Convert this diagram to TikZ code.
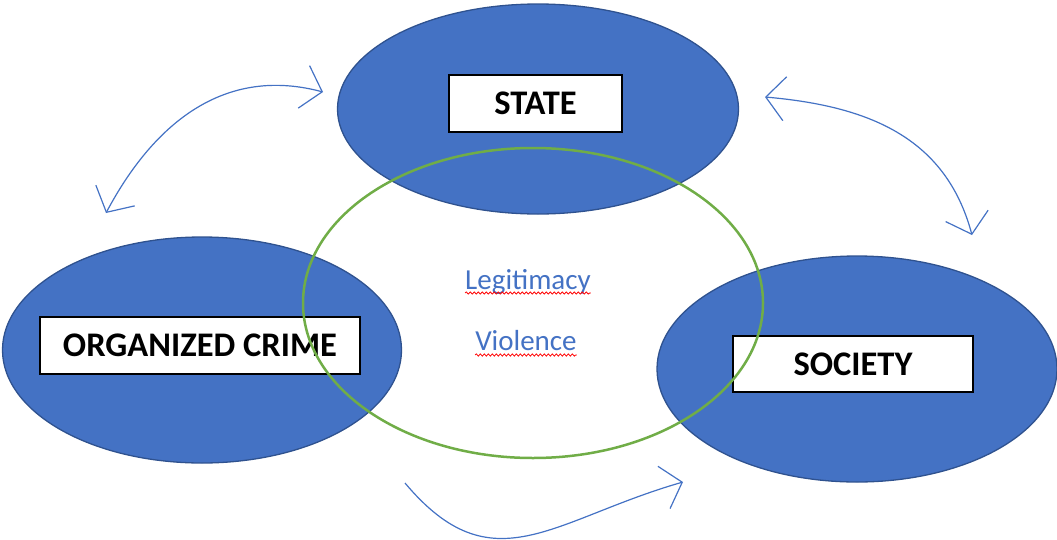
\documentclass[tikz,border=0pt]{standalone}
\usepackage{fontspec}
\setmainfont{Carlito}
\usetikzlibrary{shapes.geometric,arrows.meta,decorations.pathmorphing}
\definecolor{fillblue}{HTML}{4472C4}
\definecolor{edgeblue}{HTML}{2F528F}
\definecolor{ringgreen}{HTML}{70AD47}
\definecolor{arrowblue}{HTML}{4472C4}
\begin{document}
\begin{tikzpicture}[x=1pt,y=1pt,
 blob/.style={ellipse,draw=edgeblue,fill=fillblue,line width=1.3pt,inner sep=0pt},
 label box/.style={draw=black,fill=white,line width=1.3pt,inner sep=0pt,font=\fontsize{34.5}{40}\selectfont\bfseries},
 ring/.style={ellipse,draw=ringgreen,line width=2.5pt,inner sep=0pt},
 barb/.tip={Straight Barb[length=19pt,width=44pt]},
 link/.style={draw=arrowblue,line width=1.2pt},
 term/.style={text=fillblue,font=\fontsize{29}{34}\selectfont,anchor=base,inner sep=0pt},
 squiggle/.style={draw=red,line width=0.8pt,decorate,decoration={snake,amplitude=1.1pt,segment length=4pt}}]
\useasboundingbox (0,0) rectangle (1057,-539);
% blue ellipses
\node[blob,minimum width=401pt,minimum height=210pt] (state) at (538,-109) {};
\node[blob,minimum width=399pt,minimum height=226pt] (crime) at (202,-350) {};
\node[blob,minimum width=400pt,minimum height=226pt] (society) at (857,-369) {};
% label boxes
\node[label box,minimum width=173pt,minimum height=57pt] (stateb) at (535.5,-103.5) {STATE};
\node[label box,minimum width=320pt,minimum height=57pt] (crimeb) at (200,-345.5) {ORGANIZED CRIME};
\node[label box,minimum width=240pt,minimum height=56pt] (societyb) at (853,-364) {SOCIETY};
% green ring
\node[ring,minimum width=460pt,minimum height=310pt] (ring) at (533,-303) {};
% centre terms
\node[term] (legit) at (528,-289) {Legitimacy};
\node[term] (viol) at (526,-350) {Violence};
\draw[squiggle] ([yshift=-4pt]legit.base west) -- ([yshift=-4pt]legit.base east);
\draw[squiggle] ([yshift=-5pt]viol.base west) -- ([yshift=-5pt]viol.base east);
% arrows
\coordinate (a1) at (323,-92);
\coordinate (a2) at (106,-213);
\coordinate (c1) at (765,-97);
\coordinate (c2) at (972,-235);
\coordinate (e1) at (405,-483);
\coordinate (e2) at (683,-482);
\draw[link,barb-barb] (a2) to[out=62,in=165,looseness=1.05] (a1);
\draw[link,barb-barb] (c1) to[out=-5,in=105,looseness=1.05] (c2);
\draw[link,-barb] (e1) to[out=-50,in=196,looseness=1.25] (e2);
\end{tikzpicture}
\end{document}
